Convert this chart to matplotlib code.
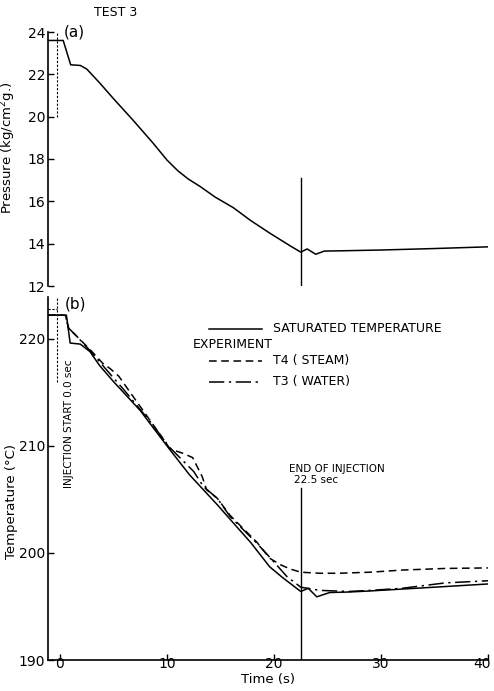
import matplotlib
matplotlib.use("Agg")
import matplotlib.pyplot as plt
from matplotlib.lines import Line2D
from matplotlib.transforms import ScaledTranslation

# pressure, test 3
t_p = [-1.12, 0.3, 1.0, 1.9, 2.5, 3.7, 5.0, 6.8, 8.7, 10.0, 11.0, 12.0, 13.1, 14.5,
       16.2, 17.8, 19.6, 21.5, 22.5, 23.1, 23.9, 24.7, 26, 30, 35, 40]
p = [23.6, 23.6, 22.45, 22.42, 22.25, 21.6, 20.85, 19.85, 18.75, 17.95, 17.45, 17.05,
     16.7, 16.2, 15.7, 15.1, 14.5, 13.9, 13.6, 13.75, 13.5, 13.65, 13.66, 13.7, 13.77,
     13.85]

# saturated temperature
t_sat = [-1.12, 0.6, 0.95, 1.9, 2.8, 3.7, 5, 7.5, 8.4, 10.3, 12.1, 14.7, 16.2, 17.8,
         19.6, 20.8, 22.5, 23.2, 24.0, 25.2, 27, 29, 35, 40]
T_sat = [222.2, 222.2, 219.6, 219.5, 218.8, 217.5, 216.0, 213.3, 212.1, 209.6, 207.3,
         204.5, 202.8, 201.0, 198.7, 197.7, 196.4, 196.7, 195.9, 196.3, 196.35, 196.45,
         196.8, 197.1]

# T4 (steam)
t_t4 = [-1.12, 0.5, 0.8, 1.5, 2.8, 4.0, 4.7, 5.5, 6.2, 8.4, 10.3, 11.5, 12.4, 13.3,
        13.7, 14.7, 15.9, 17, 18.4, 19.6, 20.6, 21.5, 22.5, 24.3, 26, 29, 32, 36, 40]
T_t4 = [222.2, 222.2, 221.0, 220.3, 219.0, 217.7, 217.2, 216.5, 215.5, 212.4, 209.7,
        209.3, 208.9, 207.1, 205.9, 205.1, 203.5, 202.4, 201.0, 199.5, 198.9, 198.5,
        198.2, 198.1, 198.1, 198.2, 198.4, 198.55, 198.6]

# T3 (water)
t_t3 = [-1.12, 0.5, 0.8, 1.5, 2.8, 4, 6, 8.4, 10.3, 11.5, 12.5, 13.4, 14.7, 15.9, 17,
        18.4, 19.6, 21.2, 22.5, 24.3, 27, 29, 32, 36, 40]
T_t3 = [222.2, 222.2, 221.0, 220.3, 218.9, 217.5, 215.2, 212.3, 209.8, 208.6, 207.6,
        206.2, 205.1, 203.4, 202.3, 200.9, 199.6, 197.8, 196.8, 196.5, 196.4, 196.5,
        196.7, 197.2, 197.4]

t_start = -0.25
t_end = 22.5

lw = 1.1
dash_t4 = (0, (5, 3))
dashdot_t3 = (0, (10, 3, 1.5, 3))

fig = plt.figure(figsize=(4.94, 6.91), dpi=100)
ax1 = fig.add_axes([48/494, 1-286/691, 440/494, 254/691])
ax2 = fig.add_axes([48/494, 1-660/691, 440/494, 363/691])

# --- (a) pressure
ax1.plot(t_p, p, color="black", lw=lw)
ax1.plot([t_start, t_start], [20, 24], color="black", lw=0.8, ls=(0, (2, 1.5)))
ax1.plot([t_end, t_end], [12.05, 17.1], color="black", lw=1.0)
ax1.set_xlim(-1.12, 40)
ax1.set_ylim(12, 24)
for s in ["top", "right", "bottom"]:
    ax1.spines[s].set_visible(False)
ax1.spines["left"].set_linewidth(1.2)
ax1.set_xticks([])
ax1.set_yticks(range(12, 25, 2))
ax1.tick_params(axis="y", direction="in", length=4, width=1, pad=2, labelsize=10)
ax1.set_ylabel("Pressure (kg/cm$^2$g.)", fontsize=9.5)
ax1.yaxis.set_label_coords(-0.068, 0.543)
ax1.text(0.036, 1.0, "(a)", transform=ax1.transAxes, fontsize=11, va="center", ha="left")
fig.text(116/494, 1-13/691, "TEST 3", fontsize=9, ha="center", va="center")

# --- (b) temperature
ax2.plot(t_sat, T_sat, color="black", lw=lw)
ax2.plot(t_t4, T_t4, color="black", lw=lw, ls=dash_t4)
ax2.plot(t_t3, T_t3, color="black", lw=lw, ls=dashdot_t3)
ax2.plot([t_start, t_start], [216, 223.9], color="black", lw=0.8, ls=(0, (2, 1.5)))
ax2.plot([-1.12, t_start], [222.8, 222.8], color="black", lw=0.8, ls=(0, (2, 1.5)))
ax2.plot([t_end, t_end], [190, 206.1], color="black", lw=1.0)
ax2.set_xlim(-1.12, 40)
ax2.set_ylim(190, 223.9)
for s in ["top", "right"]:
    ax2.spines[s].set_visible(False)
ax2.spines["left"].set_linewidth(1.2)
ax2.spines["bottom"].set_linewidth(1.2)
ax2.set_xticks([0, 10, 20, 30, 40])
ax2.set_yticks([190, 200, 210, 220])
ax2.tick_params(direction="in", length=4, width=1, labelsize=10)
ax2.tick_params(axis="y", pad=2)
ax2.tick_params(axis="x", pad=-2)
ax2.set_ylabel("Temperature (°C)", fontsize=9.5)
ax2.yaxis.set_label_coords(-0.068, 0.438)
ax2.set_xlabel("Time (s)", fontsize=9.5, labelpad=1)
ax2.text(0.038, 0.981, "(b)", transform=ax2.transAxes, fontsize=11, va="center", ha="left")

# keep the "40" label inside the figure
last = ax2.get_xticklabels()[-1]
last.set_transform(last.get_transform() + ScaledTranslation(-4/72, 0, fig.dpi_scale_trans))

ax2.text(0.84, 212.1, "INJECTION START 0.0 sec", rotation=90, fontsize=7.5,
         ha="center", va="center")
ax2.text(25.9, 207.85, "END OF INJECTION", fontsize=7.5, ha="center", va="center")
ax2.text(23.9, 206.8, "22.5 sec", fontsize=7.5, ha="center", va="center")

# legend drawn by hand
leg_x0, leg_x1, leg_tx = 0.366, 0.486, 0.511
rows = [(0.912, "-", "SATURATED TEMPERATURE"),
        (0.824, dash_t4, "T4 ( STEAM)"),
        (0.766, dashdot_t3, "T3 ( WATER)")]
for y, ls, lab in rows:
    ax2.add_line(Line2D([leg_x0, leg_x1], [y, y], transform=ax2.transAxes,
                        color="black", lw=lw, ls=ls))
    ax2.text(leg_tx, y, lab, transform=ax2.transAxes, fontsize=9, va="center", ha="left")
ax2.text(0.3295, 0.868, "EXPERIMENT", transform=ax2.transAxes, fontsize=9,
         va="center", ha="left")

fig.savefig("out.png", dpi=100)
